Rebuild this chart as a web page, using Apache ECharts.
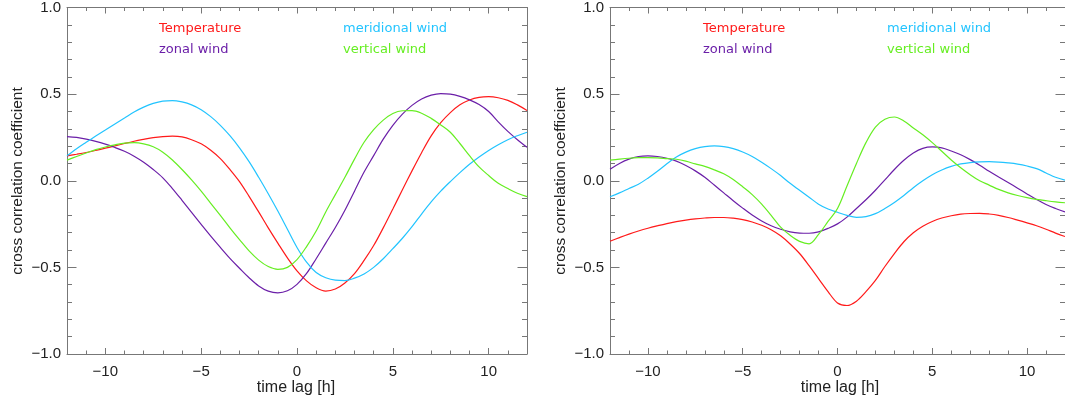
<!DOCTYPE html>
<html>
<head>
<meta charset="utf-8">
<script src="https://cdn.jsdelivr.net/npm/echarts@6/dist/echarts.min.js"></script>
<style>html,body{margin:0;padding:0;background:#fff;}#c{width:1065px;height:399px;}</style>
</head>
<body>
<div id="c"></div>
<script>
// ---- data: time lag (h) every 0.5 h from -12 to 12, and cross correlation coefficients ----
var lagHours = [-12,-11.5,-11,-10.5,-10,-9.5,-9,-8.5,-8,-7.5,-7,-6.5,-6,-5.5,-5,-4.5,-4,-3.5,-3,-2.5,-2,-1.5,-1,-0.5,0,0.5,1,1.5,2,2.5,3,3.5,4,4.5,5,5.5,6,6.5,7,7.5,8,8.5,9,9.5,10,10.5,11,11.5,12];

// left panel
var leftTemperature = [0.144,0.153,0.163,0.175,0.188,0.201,0.215,0.228,0.239,0.249,0.255,0.257,0.253,0.237,0.213,0.176,0.128,0.065,-0.005,-0.09,-0.18,-0.272,-0.36,-0.445,-0.52,-0.578,-0.618,-0.637,-0.625,-0.59,-0.536,-0.46,-0.374,-0.272,-0.163,-0.052,0.057,0.162,0.259,0.335,0.393,0.438,0.466,0.481,0.485,0.479,0.464,0.438,0.406];
var leftZonal = [0.255,0.25,0.24,0.227,0.211,0.192,0.17,0.142,0.107,0.065,0.017,-0.045,-0.113,-0.183,-0.252,-0.32,-0.385,-0.448,-0.505,-0.56,-0.607,-0.637,-0.647,-0.635,-0.598,-0.535,-0.45,-0.36,-0.27,-0.17,-0.06,0.05,0.145,0.24,0.32,0.385,0.435,0.472,0.494,0.503,0.5,0.487,0.467,0.44,0.4,0.34,0.285,0.237,0.193];
var leftMeridional = [0.144,0.185,0.222,0.258,0.293,0.328,0.362,0.397,0.425,0.447,0.46,0.463,0.455,0.438,0.41,0.37,0.32,0.26,0.19,0.11,0.02,-0.075,-0.175,-0.28,-0.385,-0.47,-0.53,-0.56,-0.574,-0.576,-0.562,-0.538,-0.5,-0.45,-0.392,-0.332,-0.265,-0.192,-0.122,-0.06,-0.005,0.047,0.095,0.137,0.175,0.208,0.237,0.26,0.28];
var leftVertical = [0.119,0.14,0.16,0.18,0.195,0.207,0.217,0.22,0.213,0.196,0.165,0.12,0.065,0.005,-0.06,-0.13,-0.2,-0.272,-0.34,-0.405,-0.458,-0.495,-0.511,-0.5,-0.455,-0.38,-0.29,-0.18,-0.08,0.02,0.125,0.222,0.295,0.35,0.388,0.404,0.405,0.39,0.36,0.322,0.28,0.215,0.145,0.08,0.03,-0.015,-0.045,-0.072,-0.092];

// right panel
var rightTemperature = [-0.349,-0.328,-0.308,-0.29,-0.274,-0.26,-0.247,-0.236,-0.227,-0.22,-0.215,-0.212,-0.212,-0.216,-0.224,-0.238,-0.257,-0.283,-0.318,-0.365,-0.42,-0.49,-0.565,-0.64,-0.705,-0.72,-0.695,-0.64,-0.575,-0.495,-0.42,-0.352,-0.3,-0.262,-0.235,-0.215,-0.202,-0.193,-0.189,-0.188,-0.192,-0.2,-0.212,-0.227,-0.243,-0.26,-0.28,-0.302,-0.322];
var rightZonal = [0.067,0.1,0.125,0.14,0.144,0.14,0.13,0.113,0.088,0.057,0.02,-0.025,-0.07,-0.115,-0.158,-0.198,-0.232,-0.26,-0.28,-0.295,-0.302,-0.303,-0.295,-0.275,-0.249,-0.21,-0.16,-0.11,-0.055,0.005,0.065,0.118,0.16,0.187,0.195,0.19,0.172,0.15,0.122,0.09,0.055,0.022,-0.01,-0.043,-0.076,-0.108,-0.137,-0.16,-0.18];
var rightMeridional = [-0.092,-0.07,-0.045,-0.02,0.015,0.055,0.098,0.137,0.165,0.185,0.197,0.201,0.197,0.185,0.166,0.14,0.107,0.07,0.03,-0.015,-0.055,-0.095,-0.135,-0.163,-0.182,-0.2,-0.211,-0.207,-0.19,-0.16,-0.125,-0.085,-0.04,0.0,0.035,0.062,0.083,0.097,0.105,0.109,0.11,0.108,0.103,0.096,0.085,0.07,0.045,0.02,0.003];
var rightVertical = [0.119,0.125,0.13,0.133,0.134,0.132,0.128,0.124,0.113,0.097,0.083,0.063,0.04,0.007,-0.035,-0.08,-0.135,-0.2,-0.268,-0.315,-0.35,-0.364,-0.31,-0.235,-0.16,-0.03,0.1,0.22,0.31,0.355,0.368,0.345,0.305,0.265,0.22,0.17,0.12,0.075,0.035,0.0,-0.025,-0.05,-0.07,-0.085,-0.097,-0.107,-0.115,-0.122,-0.127];

var seriesNames = ['Temperature','zonal wind','meridional wind','vertical wind'];
var seriesColors = ['#ff1a1a','#6b1fa8','#22c4ff','#66ee22'];
var xAxisTitle = 'time lag [h]';
var yAxisTitle = 'cross correlation coefficient';

var AX = '#777';
var LBL = {color:'#222', fontSize:15, fontFamily:'Liberation Sans, Arial, sans-serif'};
function minus(s){ return s.replace('-', '\u2212'); }
function pairs(vals){ return lagHours.map(function(t, i){ return [t, vals[i]]; }); }

function xAx(gi, pos, show) {
  return {
    type:'value', gridIndex:gi, position:pos, min:-12, max:12, splitNumber:5,
    axisLine:{show:true, onZero:false, lineStyle:{color:AX, width:1}},
    axisTick:{show:true, inside:true, length:6, lineStyle:{color:AX}},
    minorTick:{show:true, splitNumber:5, length:3.5, lineStyle:{color:AX}},
    splitLine:{show:false}, minorSplitLine:{show:false},
    axisLabel:Object.assign({show:show, showMinLabel:false, showMaxLabel:false, margin:10,
      formatter:function(v){ return minus(String(v)); }}, LBL)
  };
}
function yAx(gi, pos, show) {
  return {
    type:'value', gridIndex:gi, position:pos, min:-1, max:1, interval:0.5,
    axisLine:{show:true, onZero:false, lineStyle:{color:AX, width:1}},
    axisTick:{show:true, inside:true, length:9.5, lineStyle:{color:AX}},
    minorTick:{show:true, splitNumber:5, length:5, lineStyle:{color:AX}},
    splitLine:{show:false}, minorSplitLine:{show:false},
    axisLabel:Object.assign({show:show, margin:6,
      formatter:function(v){ return minus(v.toFixed(1)); }}, LBL)
  };
}
function line(name, color, vals, xi, yi) {
  return {type:'line', name:name, data:pairs(vals), xAxisIndex:xi, yAxisIndex:yi,
    smooth:0.35, showSymbol:false, clip:true, animation:false,
    lineStyle:{color:color, width:1.2}, itemStyle:{color:color}};
}
function legendTexts(x0, x1) {
  var f = {fontSize:13, fontFamily:'DejaVu Sans, sans-serif'};
  return [
    {type:'text', left:x0, top:22.5, style:Object.assign({text:seriesNames[0], fill:seriesColors[0]}, f)},
    {type:'text', left:x0, top:43, style:Object.assign({text:seriesNames[1], fill:seriesColors[1]}, f)},
    {type:'text', left:x1, top:22.5, style:Object.assign({text:seriesNames[2], fill:seriesColors[2]}, f)},
    {type:'text', left:x1, top:43, style:Object.assign({text:seriesNames[3], fill:seriesColors[3]}, f)}
  ];
}
function title(x, y, rot, text, size) {
  return {type:'text', x:x, y:y, rotation:rot,
    style:{text:text, fill:'#222', fontSize:size, fontFamily:'Liberation Sans, Arial, sans-serif',
      textAlign:'center', textVerticalAlign:'middle'}};
}

var chart = echarts.init(document.getElementById('c'), null, {renderer:'canvas'});
chart.setOption({
  backgroundColor:'#fff',
  animation:false,
  grid:[
    {left:67, top:6, width:460, height:348},
    {left:610, top:6, width:460, height:348}
  ],
  xAxis:[xAx(0,'bottom',true), xAx(0,'top',false), xAx(1,'bottom',true), xAx(1,'top',false)],
  yAxis:[yAx(0,'left',true), yAx(0,'right',false), yAx(1,'left',true), yAx(1,'right',false)],
  series:[
    line(seriesNames[0], seriesColors[0], leftTemperature, 0, 0),
    line(seriesNames[1], seriesColors[1], leftZonal, 0, 0),
    line(seriesNames[2], seriesColors[2], leftMeridional, 0, 0),
    line(seriesNames[3], seriesColors[3], leftVertical, 0, 0),
    line(seriesNames[0], seriesColors[0], rightTemperature, 2, 2),
    line(seriesNames[1], seriesColors[1], rightZonal, 2, 2),
    line(seriesNames[2], seriesColors[2], rightMeridional, 2, 2),
    line(seriesNames[3], seriesColors[3], rightVertical, 2, 2)
  ],
  graphic: legendTexts(159, 343).concat(legendTexts(703, 887)).concat([
    title(18, 181, Math.PI/2, yAxisTitle, 15.5),
    title(561, 181, Math.PI/2, yAxisTitle, 15.5),
    title(296, 388, 0, xAxisTitle, 16),
    title(840, 388, 0, xAxisTitle, 16)
  ])
});
</script>
</body>
</html>
